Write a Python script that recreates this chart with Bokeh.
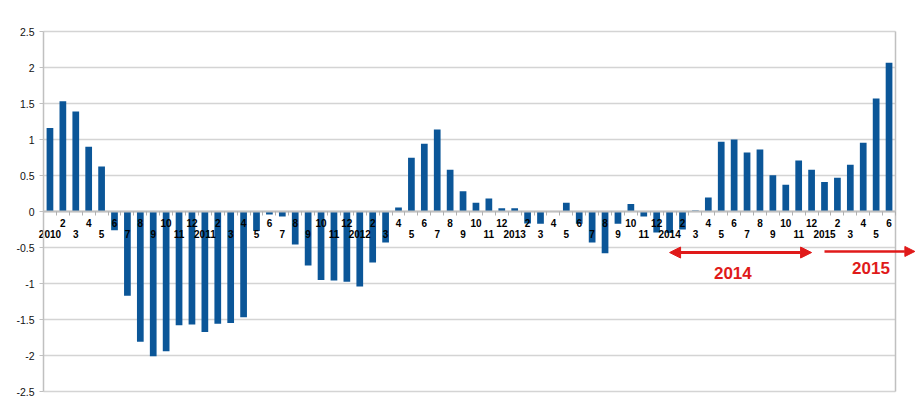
from bokeh.plotting import figure
from bokeh.models import (LinearAxis, FixedTicker, Range1d, Arrow, NormalHead,
                          ColumnDataSource, Label)
from bokeh.embed import file_html
from bokeh.resources import INLINE

# ---- data ----
years = ["2010", "2011", "2012", "2013", "2014", "2015"]
vals_2010 = [1.16, 1.53, 1.39, 0.90, 0.625, -0.26, -1.17, -1.81, -2.01, -1.94, -1.58, -1.57]
vals_2011 = [-1.675, -1.56, -1.55, -1.47, -0.27, -0.04, -0.07, -0.46, -0.75, -0.95, -0.96, -0.975]
vals_2012 = [-1.04, -0.71, -0.43, 0.055, 0.745, 0.94, 1.14, 0.58, 0.28, 0.12, 0.18, 0.045]
vals_2013 = [0.045, -0.165, -0.17, 0.005, 0.12, -0.17, -0.43, -0.58, -0.17, 0.105, -0.07, -0.29]
vals_2014 = [-0.30, -0.25, 0.015, 0.195, 0.97, 1.0, 0.82, 0.86, 0.505, 0.37, 0.71, 0.58]
vals_2015 = [0.41, 0.47, 0.65, 0.955, 1.57, 2.065]
y_ticks = [-2.5, -2, -1.5, -1, -0.5, 0, 0.5, 1, 1.5, 2, 2.5]
y_tick_labels = ["-2.5", "-2", "-1.5", "-1", "-0.5", "0", "0.5", "1", "1.5", "2", "2.5"]
annot_years = ["2014", "2015"]

all_vals = vals_2010 + vals_2011 + vals_2012 + vals_2013 + vals_2014 + vals_2015
labels = []
for yr, vals in zip(years, [vals_2010, vals_2011, vals_2012, vals_2013, vals_2014, vals_2015]):
    for m in range(1, len(vals) + 1):
        labels.append(yr if m == 1 else str(m))
idx = list(range(1, len(all_vals) + 1))
n = len(idx)

BLUE = "#0b5698"
RED = "#e01a1a"
GRID = "#d4d4d4"
AXIS = "#c0c0c0"
FONT = "Liberation Sans"

# the drawing frame is larger than the visible chart box so that labels and
# arrows that sit outside the box are not clipped
PX_PER_CAT = 852 / n
PX_PER_UNIT = 72
x_start = 0.5 - 37 / PX_PER_CAT
x_end = x_start + 912 / PX_PER_CAT
y_top = y_ticks[-1] + 11 / PX_PER_UNIT
y_bot = y_top - 380 / PX_PER_UNIT

p = figure(width=920, height=415, output_backend="svg", toolbar_location=None,
           x_range=Range1d(x_start, x_end), y_range=Range1d(y_bot, y_top),
           x_axis_location=None, min_border_left=6, min_border_right=2,
           min_border_top=20, min_border_bottom=15)
p.background_fill_color = "white"
p.border_fill_color = "white"
p.outline_line_color = None
p.xgrid.visible = False
p.ygrid.visible = False

# grid lines and right border of the chart box
p.segment(x0=0.5, x1=n + 0.5, y0=y_ticks, y1=y_ticks,
          line_color=GRID, line_width=1.5)
p.segment(x0=[n + 0.5], x1=[n + 0.5], y0=[y_ticks[0]], y1=[y_ticks[-1]],
          line_color=AXIS, line_width=1.5)

yax = p.yaxis[0]
yax.fixed_location = 0.5
yax.bounds = (y_ticks[0], y_ticks[-1])
yax.ticker = FixedTicker(ticks=y_ticks)
yax.major_label_overrides = {t: l for t, l in zip(y_ticks, y_tick_labels)}
yax.axis_line_color = AXIS
yax.axis_line_width = 1.5
yax.major_tick_line_color = AXIS
yax.major_tick_out = 4
yax.major_tick_in = 0
yax.minor_tick_line_color = None
yax.major_label_text_font = FONT
yax.major_label_text_font_size = "10.5px"
yax.major_label_text_color = "#111111"
yax.major_label_standoff = 5

src = ColumnDataSource(dict(x=idx, top=all_vals))
p.vbar(x="x", top="top", bottom=0, width=0.52, source=src,
       fill_color=BLUE, line_color=None)

# category axes (two staggered rows) fixed at zero
even = [i for i in idx if i % 2 == 0]
odd = [i for i in idx if i % 2 == 1]
minor = [i + 0.5 for i in range(0, n + 1)]

ax1 = LinearAxis(fixed_location=0, bounds=(0.5, n + 0.5),
                 ticker=FixedTicker(ticks=even, minor_ticks=minor),
                 major_label_overrides={i: labels[i - 1] for i in even})
ax1.axis_line_color = AXIS
ax1.axis_line_width = 2
ax1.major_tick_line_color = None
ax1.major_tick_out = 0
ax1.major_tick_in = 0
ax1.minor_tick_line_color = "#b0b0b0"
ax1.minor_tick_out = 4
ax1.minor_tick_in = 0
ax1.major_label_standoff = 3
ax1.major_label_text_font = FONT
ax1.major_label_text_font_style = "bold"
ax1.major_label_text_font_size = "10px"
ax1.major_label_text_color = "black"
p.add_layout(ax1, "below")

ax2 = LinearAxis(fixed_location=0, bounds=(0.5, n + 0.5),
                 ticker=FixedTicker(ticks=odd, minor_ticks=[]),
                 major_label_overrides={i: labels[i - 1] for i in odd})
ax2.axis_line_color = None
ax2.major_tick_line_color = None
ax2.major_tick_out = 0
ax2.major_tick_in = 0
ax2.minor_tick_line_color = None
ax2.major_label_standoff = 18
ax2.major_label_text_font = FONT
ax2.major_label_text_font_style = "bold"
ax2.major_label_text_font_size = "10px"
ax2.major_label_text_color = "black"
p.add_layout(ax2, "below")

# annotations for 2014 / 2015
jan14 = labels.index("2014") + 1
dec14 = jan14 + 11
jan15 = labels.index("2015") + 1
p.add_layout(Arrow(x_start=jan14, x_end=dec14, y_start=-0.57, y_end=-0.57,
                   line_color=RED, line_width=3,
                   start=NormalHead(size=11, fill_color=RED, line_color=RED),
                   end=NormalHead(size=11, fill_color=RED, line_color=RED)))
p.add_layout(Arrow(x_start=jan15, x_end=n + 2.0, y_start=-0.555, y_end=-0.555,
                   line_color=RED, line_width=2.5,
                   end=NormalHead(size=10, fill_color=RED, line_color=RED)))
p.add_layout(Label(x=jan14 + 4.9, y=-0.85, text=annot_years[0],
                   text_align="center", text_baseline="middle",
                   text_font=FONT, text_font_style="bold",
                   text_font_size="17px", text_color=RED))
p.add_layout(Label(x=jan15 + 3.6, y=-0.79, text=annot_years[1],
                   text_align="center", text_baseline="middle",
                   text_font=FONT, text_font_style="bold",
                   text_font_size="17px", text_color=RED))

open("out.html", "w").write(file_html(p, INLINE))
